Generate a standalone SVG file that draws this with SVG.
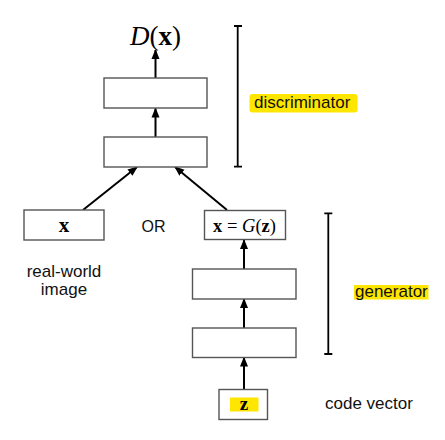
<svg xmlns="http://www.w3.org/2000/svg" width="445" height="440" viewBox="0 0 445 440">
<style>
.box{fill:#fff;stroke:#555;stroke-width:1.4}
.ln{stroke:#000;stroke-width:2;fill:none}
.br{stroke:#000;stroke-width:1.8;fill:none}
.sans{font-family:"Liberation Sans",Arial,sans-serif;font-size:17px;fill:#111}
.math{font-family:"Liberation Serif","DejaVu Serif",serif;fill:#000}
.hl{fill:#ffe600}
</style>
<defs>
<marker id="ah" markerWidth="10" markerHeight="10" refX="9" refY="5" orient="auto" markerUnits="userSpaceOnUse" viewBox="0 0 10 10">
<path d="M0,1 L10,5 L0,9 Z" fill="#000"/>
</marker>
</defs>
<rect width="445" height="440" fill="#fff"/>
<g id="connectors">
<line class="ln" x1="155.5" y1="78" x2="155.5" y2="50" marker-end="url(#ah)"/>
<line class="ln" x1="155.5" y1="137" x2="155.5" y2="108.5" marker-end="url(#ah)"/>
<line class="ln" x1="83" y1="210" x2="137" y2="167" marker-end="url(#ah)"/>
<line class="ln" x1="227" y1="210" x2="175" y2="167" marker-end="url(#ah)"/>
<line class="ln" x1="244" y1="269" x2="244" y2="240" marker-end="url(#ah)"/>
<line class="ln" x1="244" y1="328" x2="244" y2="299" marker-end="url(#ah)"/>
<line class="ln" x1="244" y1="389" x2="244" y2="357.5" marker-end="url(#ah)"/>
</g>
<g id="Dout"><text class="math" x="155.5" y="45" style="font-size:27px" text-anchor="middle"><tspan font-style="italic">D</tspan>(<tspan font-weight="bold">x</tspan>)</text></g>
<g id="d2"><rect class="box" x="104" y="78" width="103" height="30"/></g>
<g id="d1"><rect class="box" x="104" y="137" width="103" height="30"/></g>
<g id="xreal"><rect class="box" x="24" y="210" width="80" height="30"/><text class="math" x="64" y="231.5" style="font-size:21px" font-weight="bold" text-anchor="middle">x</text></g>
<g id="or"><text class="sans" x="153.5" y="231.5" text-anchor="middle" style="font-size:16px">OR</text></g>
<g id="xgen"><rect class="box" x="204.5" y="210.5" width="81" height="29"/><text class="math" x="244.5" y="231.5" style="font-size:18.5px" text-anchor="middle"><tspan font-weight="bold">x</tspan> = <tspan font-style="italic">G</tspan>(<tspan font-weight="bold">z</tspan>)</text></g>
<g id="rw"><text class="sans" x="64" y="276.5" text-anchor="middle">real-world</text><text class="sans" x="64" y="295" text-anchor="middle">image</text></g>
<g id="g2"><rect class="box" x="192.5" y="269" width="103.5" height="30"/></g>
<g id="g1"><rect class="box" x="192.5" y="328" width="103.5" height="29.5"/></g>
<g id="z"><rect class="box" x="219" y="389.5" width="48.5" height="30"/><rect class="hl" x="230" y="397.5" width="28.5" height="14"/><text class="math" x="244" y="410" style="font-size:19px" font-weight="bold" text-anchor="middle">z</text></g>
<g id="codevec"><text class="sans" x="325" y="409">code vector</text></g>
<g id="disc"><path class="br" d="M237.7,26 V166.7 M234,26 H242 M234,166.7 H242"/><rect class="hl" x="249.5" y="94" width="108" height="18.5" rx="3"/><text class="sans" x="254" y="108.3">discriminator</text></g>
<g id="gen"><path class="br" d="M328.3,213.3 V354 M324.3,213.3 H332.3 M324.3,354 H332.3"/><rect class="hl" x="354" y="285" width="74.5" height="14.5"/><text class="sans" x="355" y="296.5">generator</text></g>
</svg>
